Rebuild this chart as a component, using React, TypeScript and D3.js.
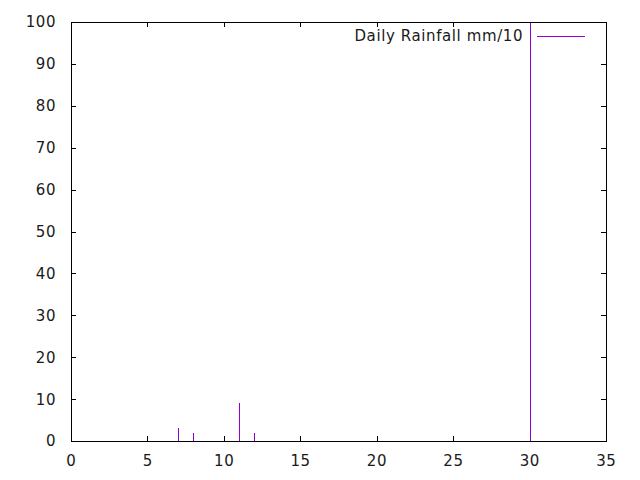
import * as d3 from "d3";
import { useEffect, useRef } from "react";

const days = [7, 8, 11, 12, 30];
const rainfall = [3.1, 1.9, 9.1, 1.9, 120];
const xTicks = [0, 5, 10, 15, 20, 25, 30, 35];
const yTicks = [0, 10, 20, 30, 40, 50, 60, 70, 80, 90, 100];
const seriesName = "Daily Rainfall mm/10";

export default function App() {
  const ref = useRef<SVGSVGElement>(null);

  useEffect(() => {
    const width = 640;
    const height = 480;
    const left = 71, right = 606, top = 22, bottom = 441;
    const font = "'DejaVu Sans', sans-serif";
    const color = "#9400d3";
    const tick = 5;
    const ink = "#1a1a1a";

    const svg = d3.select(ref.current);
    svg.selectAll("*").remove();
    svg.attr("width", width).attr("height", height);

    svg.append("rect").attr("width", width).attr("height", height).attr("fill", "#fff");

    const x = d3.scaleLinear().domain([0, 35]).range([left, right]);
    const y = d3.scaleLinear().domain([0, 100]).range([bottom, top]);

    const g = svg.append("g").attr("shape-rendering", "crispEdges");

    // ticks, mirrored on all sides
    xTicks.forEach(t => {
      const px = Math.round(x(t)) + 0.5;
      g.append("line").attr("x1", px).attr("x2", px).attr("y1", bottom).attr("y2", bottom - tick).attr("stroke", "#000");
      g.append("line").attr("x1", px).attr("x2", px).attr("y1", top).attr("y2", top + tick).attr("stroke", "#000");
      svg.append("text").attr("x", x(t) + 0.3).attr("y", 466).attr("text-anchor", "middle")
        .attr("font-family", font).attr("font-size", 15).attr("letter-spacing", 0.6)
        .attr("fill", ink).text(t);
    });
    yTicks.forEach(t => {
      const py = Math.round(y(t)) + 0.5;
      g.append("line").attr("x1", left).attr("x2", left + tick).attr("y1", py).attr("y2", py).attr("stroke", "#000");
      g.append("line").attr("x1", right).attr("x2", right - tick).attr("y1", py).attr("y2", py).attr("stroke", "#000");
      svg.append("text").attr("x", 56.1).attr("y", y(t)).attr("dy", "0.36em").attr("text-anchor", "end")
        .attr("font-family", font).attr("font-size", 15).attr("letter-spacing", 0.6)
        .attr("fill", ink).text(t);
    });

    // impulses, clipped to the plot box
    svg.append("clipPath").attr("id", "plotclip").append("rect")
      .attr("x", left).attr("y", top).attr("width", right - left).attr("height", bottom - top);
    g.append("g").attr("clip-path", "url(#plotclip)")
      .selectAll("line")
      .data(days.map((d, i) => ({ d, v: rainfall[i] })))
      .enter()
      .append("line")
      .attr("x1", p => Math.round(x(p.d)) + 0.5)
      .attr("x2", p => Math.round(x(p.d)) + 0.5)
      .attr("y1", y(0))
      .attr("y2", p => y(p.v))
      .attr("stroke", color);

    // border
    g.append("rect").attr("x", left + 0.5).attr("y", top + 0.5)
      .attr("width", right - left).attr("height", bottom - top)
      .attr("fill", "none").attr("stroke", "#000");

    // legend
    svg.append("text").attr("x", 523.1).attr("y", 36).attr("dy", "0.36em").attr("text-anchor", "end")
      .attr("font-family", font).attr("font-size", 15).attr("letter-spacing", 0.6)
      .attr("fill", ink).text(seriesName);
    g.append("line").attr("x1", 537).attr("x2", 585).attr("y1", 36.5).attr("y2", 36.5).attr("stroke", color);
  }, []);

  return <svg ref={ref} style={{ position: "absolute", left: 0, top: 0 }} />;
}
